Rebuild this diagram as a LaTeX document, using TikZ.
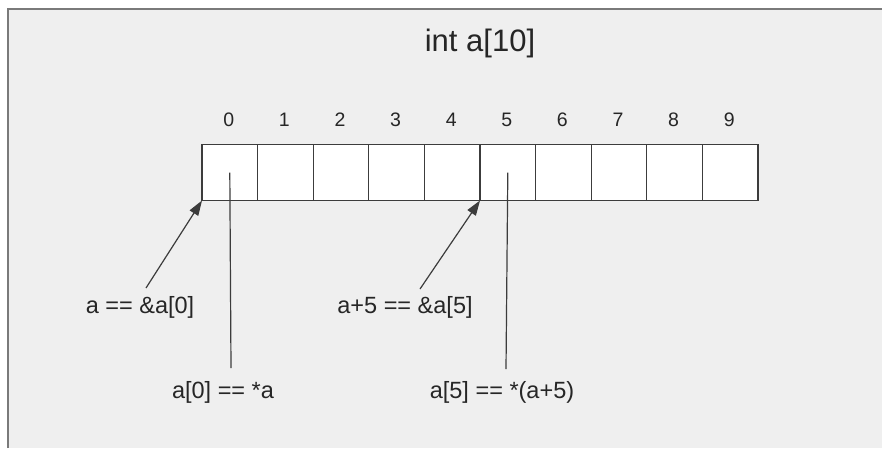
\documentclass[tikz,border=0pt]{standalone}
\usepackage{fontspec}
\setmainfont{Liberation Sans}
\usetikzlibrary{arrows.meta}
\definecolor{bgray}{HTML}{EFEFEF}
\definecolor{lnc}{HTML}{3C3C3C}
\definecolor{framec}{HTML}{7A7A7A}
\begin{document}
\begin{tikzpicture}[x=1pt,y=-1pt,
  cell/.style={draw=lnc,line width=1.2pt,fill=white,minimum width=55.6pt,minimum height=56pt,inner sep=0pt,outer sep=0pt},
  idx/.style={font=\fontsize{19.5}{22}\selectfont,text=black!85,inner sep=0pt},
  lbl/.style={font=\fontsize{23.5}{27}\selectfont,text=black!85,inner sep=0pt},
  ttl/.style={font=\fontsize{31}{35}\selectfont,text=black!85,inner sep=0pt},
  conn/.style={draw=lnc,line width=1.2pt},
  arr/.style={conn,-{Triangle[length=15pt,width=10pt]}}]
\useasboundingbox (0,0) rectangle (882,448);
\fill[white] (0,0) rectangle (882,448);
\fill[bgray] (8,9) rectangle (882,448);
\draw[framec,line width=2pt] (8,448) -- (8,9) -- (882,9);
\node[ttl] (title) at (480,43) {int a[10]};
\foreach \i in {0,...,9}{
  \node[cell] (c\i) at ({202+55.6*(\i+0.5)},172.5) {};
  \node[idx] (n\i) at ({201+55.6*(\i+0.5)},120) {\i};
}
\coordinate (s1) at (146,288);
\coordinate (s2) at (420,289);
\coordinate (e3) at (231,368);
\coordinate (e4) at (506,369);
\node[lbl] (l1) at (140,307) {a == \&a[0]};
\node[lbl] (l2) at (405,307) {a+5 == \&a[5]};
\node[lbl] (l3) at (223,392) {a[0] == *a};
\node[lbl] (l4) at (502,392) {a[5] == *(a+5)};
\draw[arr] (s1) -- (c0.south west);
\draw[arr] (s2) -- (c5.south west);
\draw[conn] (c0.center) -- (e3);
\draw[conn] (c5.center) -- (e4);
\end{tikzpicture}
\end{document}
